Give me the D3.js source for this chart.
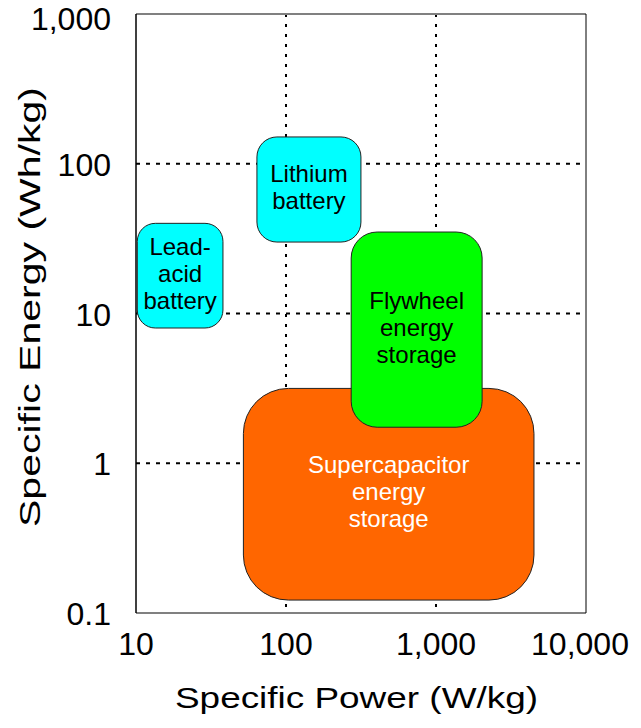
<!DOCTYPE html>
<html><head><meta charset="utf-8">
<script src="https://cdn.jsdelivr.net/npm/d3@7"></script>
<style>body{margin:0;background:#fff}svg{display:block}text{font-family:"Liberation Sans",Arial,sans-serif}</style>
</head><body>
<script>
const xTicks = [10, 100, 1000, 10000];
const yTicks = [0.1, 1, 10, 100, 1000];
const gridX = [100, 1000];
const gridY = [1, 10, 100];
const regionNames = ["Supercapacitor energy storage", "Lead-acid battery", "Lithium battery", "Flywheel energy storage"];
const regionLabelLines = [["Supercapacitor","energy","storage"], ["Lead-","acid","battery"], ["Lithium","battery"], ["Flywheel","energy","storage"]];
const powerMin = [52, 10.2, 64, 272];
const powerMax = [4500, 38, 316, 2030];
const energyMin = [0.122, 8, 30, 1.74];
const energyMax = [3.16, 40, 151, 35];
const fills = ["#ff6600", "#00ffff", "#00ffff", "#00ff00"];
const textColors = ["#ffffff", "#000000", "#000000", "#000000"];
const radii = [45, 18, 20, 26];

const W = 641, H = 728;
const m = {left:136, right:55, top:14, bottom:115};
const svg = d3.select("body").append("svg").attr("width", W).attr("height", H);
const x = d3.scaleLog().domain([10, 10000]).range([m.left, W - m.right]);
const y = d3.scaleLog().domain([0.1, 1000]).range([H - m.bottom, m.top]);
const fmt = d3.format(",");

// grid
svg.append("g").selectAll("line").data(gridX).join("line")
  .attr("x1", d => x(d)).attr("x2", d => x(d)).attr("y1", y(1000)).attr("y2", y(0.1))
  .attr("stroke", "#000").attr("stroke-width", 2).attr("stroke-dasharray", "3,7");
svg.append("g").selectAll("line").data(gridY).join("line")
  .attr("y1", d => y(d)).attr("y2", d => y(d)).attr("x1", x(10)).attr("x2", x(10000))
  .attr("stroke", "#000").attr("stroke-width", 2).attr("stroke-dasharray", "4,6");

// frame
svg.append("line").attr("x1", x(10)).attr("x2", x(10000)).attr("y1", y(1000)).attr("y2", y(1000)).attr("stroke", "#808080").attr("stroke-width", 2);
svg.append("line").attr("x1", x(10)).attr("x2", x(10000)).attr("y1", y(0.1)).attr("y2", y(0.1)).attr("stroke", "#808080").attr("stroke-width", 2);
svg.append("line").attr("x1", x(10)).attr("x2", x(10)).attr("y1", y(1000)).attr("y2", y(0.1)).attr("stroke", "#000").attr("stroke-width", 1.5);
svg.append("line").attr("x1", x(10000)).attr("x2", x(10000)).attr("y1", y(1000)).attr("y2", y(0.1)).attr("stroke", "#000").attr("stroke-width", 1);

// regions
const regions = regionNames.map((n, i) => ({n, i}));
const g = svg.append("g").selectAll("g").data(regions).join("g");
g.append("rect")
  .attr("x", d => x(powerMin[d.i])).attr("y", d => y(energyMax[d.i]))
  .attr("width", d => x(powerMax[d.i]) - x(powerMin[d.i]))
  .attr("height", d => y(energyMin[d.i]) - y(energyMax[d.i]))
  .attr("rx", d => radii[d.i]).attr("ry", d => radii[d.i])
  .attr("fill", d => fills[d.i]).attr("stroke", "#222").attr("stroke-width", 1);
g.each(function(d) {
  const lines = regionLabelLines[d.i];
  const cx = (x(powerMin[d.i]) + x(powerMax[d.i])) / 2;
  const cy = (y(energyMin[d.i]) + y(energyMax[d.i])) / 2;
  const lh = 27;
  const t = d3.select(this).append("text").attr("text-anchor", "middle")
    .attr("font-size", 24).attr("fill", textColors[d.i]);
  lines.forEach((l, k) => {
    t.append("tspan").attr("x", cx).attr("y", cy + (k - (lines.length - 1) / 2) * lh + 6).text(l);
  });
});

// tick labels
svg.append("g").selectAll("text").data(xTicks).join("text")
  .attr("x", d => x(d)).attr("dx", (d, i) => i === xTicks.length - 1 ? -6 : 0)
  .attr("y", y(0.1) + 42).attr("text-anchor", "middle")
  .attr("font-size", 32).attr("fill", "#000").text(d => fmt(d));
svg.append("g").selectAll("text").data(yTicks).join("text")
  .attr("x", x(10) - 25).attr("y", d => Math.max(y(d) + 12, 30)).attr("text-anchor", "end")
  .attr("font-size", 32).attr("fill", "#000").text(d => fmt(d));

// titles
svg.append("text").attr("x", 175).attr("y", 708)
  .attr("font-size", 30).attr("textLength", 363).attr("lengthAdjust", "spacingAndGlyphs")
  .text("Specific Power (W/kg)");
svg.append("text").attr("transform", `translate(40,527) rotate(-90)`)
  .attr("font-size", 30).attr("textLength", 440).attr("lengthAdjust", "spacingAndGlyphs")
  .text("Specific Energy (Wh/kg)");
</script>
</body></html>
